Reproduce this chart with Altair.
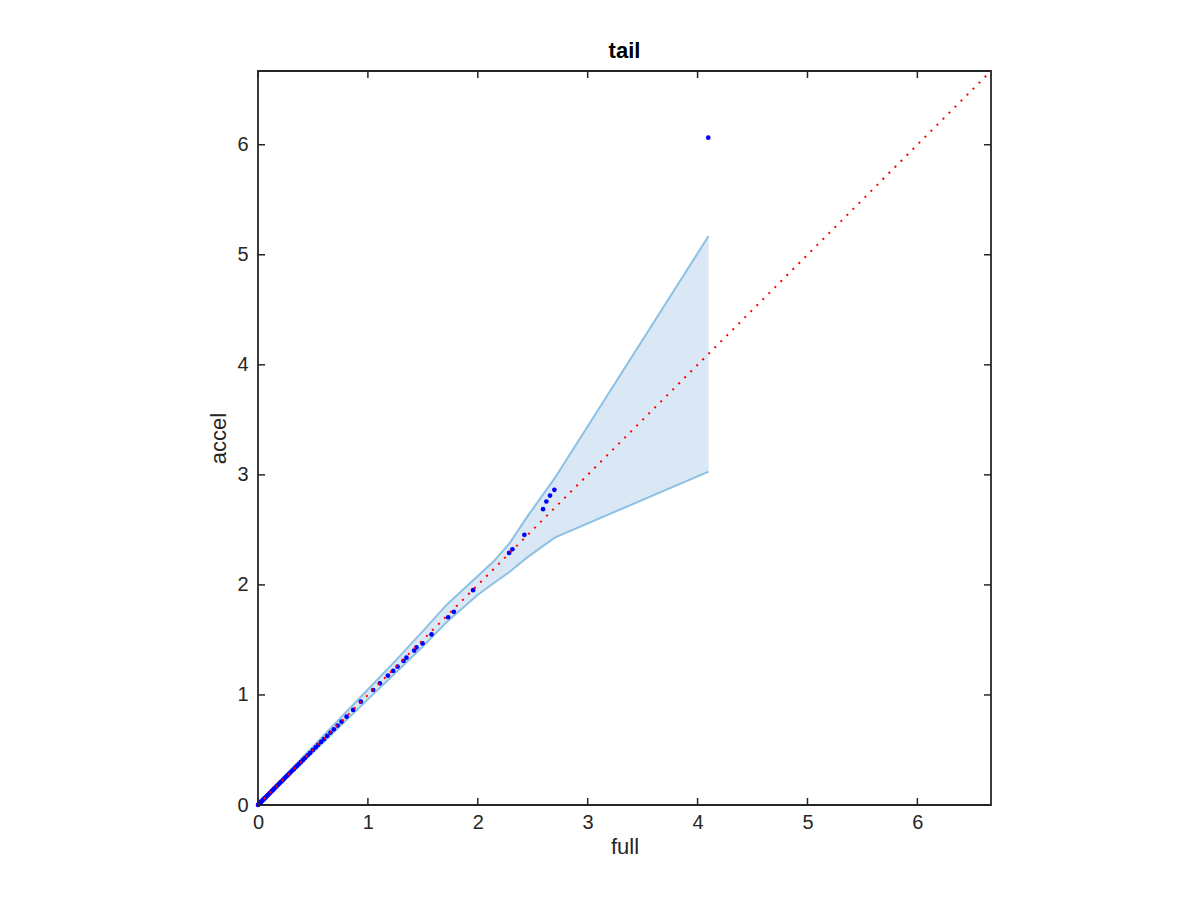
import altair as alt
import pandas as pd

# quantile points (full vs accel)
full = [0, 0.004, 0.008, 0.012, 0.017, 0.022, 0.027, 0.033, 0.039, 0.045, 0.052, 0.059,
        0.066, 0.074, 0.082, 0.090, 0.099, 0.108, 0.117, 0.127, 0.137, 0.147, 0.158, 0.169,
        0.180, 0.192, 0.204, 0.216, 0.229, 0.242, 0.255, 0.269, 0.283, 0.297, 0.312, 0.327,
        0.342, 0.358, 0.374, 0.390, 0.410, 0.430, 0.452, 0.475, 0.500, 0.525, 0.548, 0.575,
        0.600, 0.630, 0.660, 0.690, 0.725, 0.760, 0.806, 0.866, 0.936, 1.048, 1.109, 1.182,
        1.230, 1.270, 1.324, 1.351, 1.421, 1.442, 1.497, 1.579, 1.730, 1.782, 1.957, 2.285,
        2.315, 2.424, 2.594, 2.624, 2.657, 2.697, 4.097]
accel = [0, 0.004, 0.009, 0.013, 0.017, 0.022, 0.028, 0.033, 0.039, 0.046, 0.052, 0.060,
         0.066, 0.075, 0.082, 0.091, 0.099, 0.109, 0.117, 0.128, 0.137, 0.148, 0.158, 0.170,
         0.181, 0.192, 0.205, 0.216, 0.230, 0.242, 0.256, 0.269, 0.284, 0.297, 0.313, 0.326,
         0.343, 0.357, 0.374, 0.389, 0.410, 0.429, 0.452, 0.473, 0.499, 0.523, 0.547, 0.573,
         0.598, 0.628, 0.658, 0.688, 0.722, 0.757, 0.803, 0.864, 0.939, 1.045, 1.106, 1.176,
         1.218, 1.257, 1.309, 1.339, 1.403, 1.432, 1.468, 1.550, 1.706, 1.755, 1.952, 2.291,
         2.324, 2.455, 2.688, 2.758, 2.812, 2.864, 6.064]

# confidence band
band_x = [0, 0.25, 0.5, 0.75, 1.0, 1.25, 1.5, 1.715, 2.0, 2.15, 2.29, 2.45, 2.7, 4.1]
band_hi = [0, 0.27, 0.53, 0.79, 1.05, 1.31, 1.58, 1.818, 2.08, 2.22, 2.38, 2.62, 2.97, 5.17]
band_lo = [0, 0.24, 0.48, 0.72, 0.96, 1.20, 1.44, 1.66, 1.91, 2.02, 2.12, 2.25, 2.43, 3.03]

ref_x = [0, 6.67]
ticks = [0, 1, 2, 3, 4, 5, 6]

W, H = 733, 734
DARK = "#262626"
FONT = "Liberation Sans"
xs = alt.Scale(domain=[0, 6.67], nice=False, zero=False)
ys = alt.Scale(domain=[0, 6.67], nice=False, zero=False)

pts = pd.DataFrame({"full": full, "accel": accel})
band = pd.DataFrame({"x": band_x, "hi": band_hi, "lo": band_lo})
ref = pd.DataFrame({"x": ref_x, "y": ref_x})
tk = pd.DataFrame({"t": ticks})

xaxis = alt.Axis(values=ticks, title="full", format="d", titleY=31, titleBaseline="top")
yaxis = alt.Axis(values=ticks, title="accel", format="d", titleX=-33,
                 titleBaseline="alphabetic", titleY=H / 2, titleAlign="center", titleAngle=270)

area = alt.Chart(band).mark_area(color="#d9e8f4", opacity=1).encode(
    x=alt.X("x:Q", scale=xs, axis=xaxis),
    y=alt.Y("hi:Q", scale=ys, axis=yaxis),
    y2="lo:Q",
)
hi_line = alt.Chart(band).mark_line(color="#8cc0e4", strokeWidth=2).encode(
    x=alt.X("x:Q", scale=xs), y=alt.Y("hi:Q", scale=ys)
)
lo_line = alt.Chart(band).mark_line(color="#8cc0e4", strokeWidth=2).encode(
    x=alt.X("x:Q", scale=xs), y=alt.Y("lo:Q", scale=ys)
)
points = alt.Chart(pts).mark_circle(color="#0000ff", size=22, opacity=1).encode(
    x=alt.X("full:Q", scale=xs), y=alt.Y("accel:Q", scale=ys)
)
refline = alt.Chart(ref).mark_line(color="#ff0000", strokeWidth=2, strokeDash=[2, 6.5]).encode(
    x=alt.X("x:Q", scale=xs), y=alt.Y("y:Q", scale=ys)
)

tl = 7
tick_bottom = alt.Chart(tk).mark_rule(color=DARK, strokeWidth=1.5).encode(
    x=alt.X("t:Q", scale=xs), y=alt.value(H), y2=alt.value(H - tl))
tick_top = alt.Chart(tk).mark_rule(color=DARK, strokeWidth=1.5).encode(
    x=alt.X("t:Q", scale=xs), y=alt.value(0), y2=alt.value(tl))
tick_left = alt.Chart(tk).mark_rule(color=DARK, strokeWidth=1.5).encode(
    y=alt.Y("t:Q", scale=ys), x=alt.value(0), x2=alt.value(tl))
tick_right = alt.Chart(tk).mark_rule(color=DARK, strokeWidth=1.5).encode(
    y=alt.Y("t:Q", scale=ys), x=alt.value(W - tl), x2=alt.value(W))

chart = alt.layer(
    area, hi_line, lo_line, points, refline,
    tick_bottom, tick_top, tick_left, tick_right
).properties(
    width=W, height=H,
    title=alt.TitleParams("tail", fontSize=22, font=FONT, fontWeight="bold",
                          color="#000000", offset=4),
    autosize=alt.AutoSizeParams(type="none"),
    padding={"left": 250, "top": 63, "right": 10, "bottom": 60},
).configure_view(
    stroke=DARK, strokeWidth=1.8
).configure_axis(
    domain=False, ticks=False, grid=False, labelFlush=False,
    labelFont=FONT, labelFontSize=20, labelColor=DARK,
    titleFont=FONT, titleFontSize=22, titleColor=DARK, titleFontWeight="normal",
).configure_axisX(labelPadding=7).configure_axisY(labelPadding=10)

chart.save("out.html", embed_options={"renderer": "svg", "actions": False})
